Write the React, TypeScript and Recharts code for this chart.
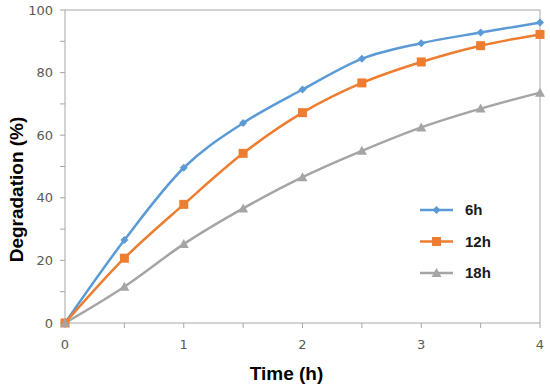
import React from "react"
import { LineChart, Line, XAxis, YAxis, ReferenceLine } from "recharts"

const times = [0, 0.5, 1, 1.5, 2, 2.5, 3, 3.5, 4]
const deg6h = [0, 26.5, 49.6, 63.9, 74.6, 84.4, 89.4, 92.8, 96.0]
const deg12h = [0, 20.7, 37.9, 54.2, 67.2, 76.7, 83.4, 88.6, 92.2]
const deg18h = [0, 11.6, 25.2, 36.6, 46.6, 55.0, 62.5, 68.5, 73.6]

const xTicks = [0, 0.5, 1, 1.5, 2, 2.5, 3, 3.5, 4]
const yTicks = [0, 10, 20, 30, 40, 50, 60, 70, 80, 90, 100]

const data = times.map((t, i) => ({
  time: t,
  h6: deg6h[i],
  h12: deg12h[i],
  h18: deg18h[i],
}))

const BLUE = "#5B9BD5"
const ORANGE = "#ED7D31"
const GRAY = "#A5A5A5"
const AXIS = "#A6A6A6"
const FONT = "'DejaVu Sans', Verdana, sans-serif"
const TITLE_FONT = "'Liberation Sans', Arial, sans-serif"

const Diamond = (props: any) => {
  const { cx, cy, fill } = props
  if (cx == null || cy == null) return null
  const s = 4
  return <path d={`M${cx},${cy - s}L${cx + s},${cy}L${cx},${cy + s}L${cx - s},${cy}Z`} fill={fill} />
}

const Square = (props: any) => {
  const { cx, cy, fill } = props
  if (cx == null || cy == null) return null
  const s = 4.5
  return <rect x={cx - s} y={cy - s} width={s * 2} height={s * 2} fill={fill} />
}

const Triangle = (props: any) => {
  const { cx, cy, fill } = props
  if (cx == null || cy == null) return null
  return <path d={`M${cx},${cy - 5}L${cx + 5},${cy + 4}L${cx - 5},${cy + 4}Z`} fill={fill} />
}

const legendItems = [
  { name: "6h", color: BLUE, Marker: Diamond },
  { name: "12h", color: ORANGE, Marker: Square },
  { name: "18h", color: GRAY, Marker: Triangle },
]

// legend drawn like Excel: line with marker in the middle, bold label
const ChartLegend = () => (
  <svg width={100} height={90} style={{ position: "absolute", left: 420, top: 200 }}>
    {legendItems.map((item, i) => {
      const y = 10 + i * 31.5
      return (
        <g key={item.name}>
          <line x1={0} y1={y} x2={33} y2={y} stroke={item.color} strokeWidth={2.5} />
          <item.Marker cx={16.5} cy={y} fill={item.color} />
          <text x={45} y={y + 5} fontSize={15} fontWeight={600} fontFamily={TITLE_FONT} fill="#1a1a1a">
            {item.name}
          </text>
        </g>
      )
    })}
  </svg>
)

export default function App() {
  return (
    <div style={{ position: "absolute", left: 0, top: 0, width: 550, height: 392, background: "#fff" }}>
      <LineChart width={550} height={392} data={data} margin={{ top: 10, right: 10, left: 0, bottom: 0 }}>
        <XAxis
          dataKey="time"
          type="number"
          domain={[0, 4]}
          ticks={xTicks}
          tickFormatter={(v: number) => (Number.isInteger(v) ? String(v) : "")}
          interval={0}
          height={69}
          stroke={AXIS}
          tickSize={5}
          tickMargin={12}
          tick={{ fill: "#595959", fontSize: 13, fontFamily: FONT }}
          label={{ value: "Time (h)", position: "insideBottom", offset: 12, dx: -16, fill: "#000", fontSize: 19, fontWeight: 700, fontFamily: TITLE_FONT }}
        />
        <YAxis
          type="number"
          domain={[0, 100]}
          ticks={yTicks}
          tickFormatter={(v: number) => (v % 20 === 0 ? String(v) : "")}
          interval={0}
          width={65}
          stroke={AXIS}
          tickSize={5}
          tickMargin={7}
          tick={{ fill: "#595959", fontSize: 13, fontFamily: FONT }}
          label={{ value: "Degradation (%)", angle: -90, position: "center", dx: -16, dy: 23, fill: "#000", fontSize: 19, fontWeight: 700, fontFamily: TITLE_FONT }}
        />
        <ReferenceLine y={100} stroke={AXIS} strokeWidth={1} ifOverflow="visible" />
        <ReferenceLine x={4} stroke={AXIS} strokeWidth={1} ifOverflow="visible" />
        <Line
          type="monotone"
          dataKey="h6"
          name="6h"
          stroke={BLUE}
          strokeWidth={2.5}
          dot={(p: any) => <Diamond key={`d6-${p.index}`} cx={p.cx} cy={p.cy} fill={BLUE} />}
          isAnimationActive={false}
        />
        <Line
          type="monotone"
          dataKey="h12"
          name="12h"
          stroke={ORANGE}
          strokeWidth={2.5}
          dot={(p: any) => <Square key={`d12-${p.index}`} cx={p.cx} cy={p.cy} fill={ORANGE} />}
          isAnimationActive={false}
        />
        <Line
          type="monotone"
          dataKey="h18"
          name="18h"
          stroke={GRAY}
          strokeWidth={2.5}
          dot={(p: any) => <Triangle key={`d18-${p.index}`} cx={p.cx} cy={p.cy} fill={GRAY} />}
          isAnimationActive={false}
        />
      </LineChart>
      <ChartLegend />
    </div>
  )
}
